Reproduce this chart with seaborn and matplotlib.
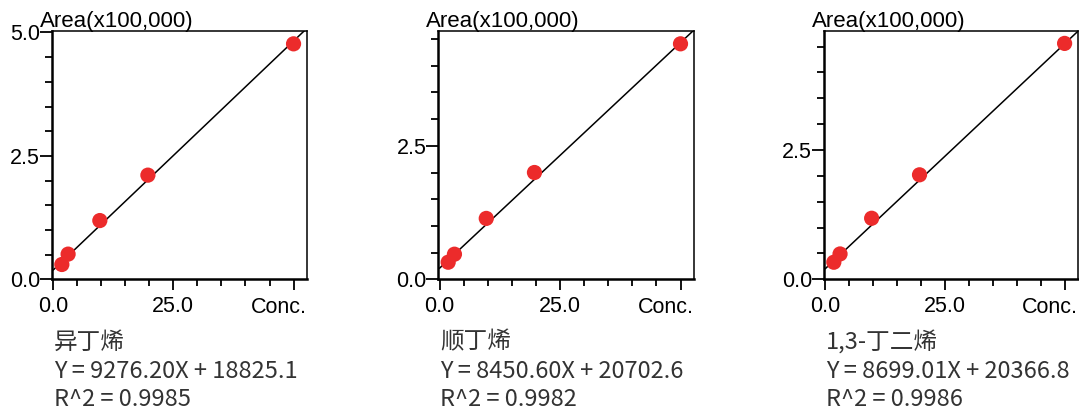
import matplotlib
matplotlib.use("Agg")
import numpy as np
import pandas as pd
import matplotlib.pyplot as plt
from matplotlib.ticker import MultipleLocator, FixedLocator
import seaborn as sns

# Calibration data: concentration vs. peak area (in units of 100,000)
conc = [1.8, 3.1, 9.7, 19.7, 50.0]
area_isobutene = [0.30, 0.51, 1.19, 2.11, 4.77]
area_cis_butene = [0.32, 0.47, 1.14, 2.00, 4.41]
area_butadiene = [0.33, 0.49, 1.18, 2.02, 4.56]

compounds = ["异丁烯", "顺丁烯", "1,3-丁二烯"]
slopes = [9276.20, 8450.60, 8699.01]
intercepts = [18825.1, 20702.6, 20366.8]
r_squared = [0.9985, 0.9982, 0.9986]

x_ticks = [0, 25]
x_tick_labels = ["0.0", "25.0"]
y_ticks = [0, 2.5, 5.0]
y_tick_labels = ["0.0", "2.5", "5.0"]

sns.set_theme(style="ticks")
plt.rcParams["font.family"] = ["Liberation Sans", "DejaVu Sans"]

W, H = 1079, 412
fig = plt.figure(figsize=(W / 100, H / 100), dpi=100)

RED = "#EC2B2B"
# axes boxes in pixels: left, right, top, bottom
boxes = [(52, 307, 31, 279.3), (438.3, 694, 31, 279.3), (824, 1078, 31, 279.3)]
y_tops = [5.03, 4.65, 4.80]
series = [area_isobutene, area_cis_butene, area_butadiene]
X_MAX = 52.8
TICK_FS = 15.5

for i, (l, r, t, b) in enumerate(boxes):
    ax = fig.add_axes([l / W, 1 - b / H, (r - l) / W, (b - t) / H])
    df = pd.DataFrame({"conc": conc, "area": series[i]})

    fit_x = np.array([0.0, X_MAX])
    fit_y = (slopes[i] * fit_x + intercepts[i]) / 1e5
    sns.lineplot(x=fit_x, y=fit_y, ax=ax, color="black", lw=1.1, zorder=2)
    sns.scatterplot(data=df, x="conc", y="area", ax=ax, s=120, color=RED,
                    edgecolor="none", linewidth=0, zorder=3)

    ax.set_xlim(-0.25, X_MAX)
    ax.set_ylim(0, y_tops[i])
    ax.set_xlabel("")
    ax.set_ylabel("")

    ax.xaxis.set_major_locator(FixedLocator([0, 25, 50]))
    ax.set_xticklabels(x_tick_labels + [""])
    ax.xaxis.set_minor_locator(MultipleLocator(5))
    ax.yaxis.set_major_locator(FixedLocator(y_ticks))
    ax.set_yticklabels(y_tick_labels)
    ax.yaxis.set_minor_locator(MultipleLocator(0.5))

    ax.tick_params(axis="both", which="major", direction="out", color="black",
                   width=1.3, labelsize=TICK_FS, labelcolor="black")
    ax.tick_params(axis="y", which="major", length=8.6, pad=0)
    ax.tick_params(axis="x", which="major", length=7.7, pad=4)
    ax.tick_params(axis="y", which="minor", length=5, width=1.3, color="black")
    ax.tick_params(axis="x", which="minor", length=4.8, width=1.3, color="black")

    for side in ["left", "bottom"]:
        ax.spines[side].set_linewidth(1.8)
        ax.spines[side].set_color("black")
    for side in ["top", "right"]:
        ax.spines[side].set_visible(True)
        ax.spines[side].set_linewidth(1.1)
        ax.spines[side].set_color("black")
    ax.set_facecolor("white")

    # axis captions
    fig.text(r / W, 1 - 313 / H, "Conc.", ha="right", va="baseline",
             fontsize=TICK_FS, color="black")
    fig.text((l - 12) / W, 1 - 26.7 / H, "Area(x100,000)", ha="left",
             va="baseline", fontsize=16, color="black")

    # calibration summary
    tx = (l + 2) / W
    lines = [compounds[i],
             f"Y = {slopes[i]:.2f}X + {intercepts[i]:.1f}",
             f"R^2 = {r_squared[i]:.4f}"]
    for txt, yc in zip(lines, [342, 371, 399]):
        fig.text(tx, 1 - yc / H, txt, ha="left", va="center", fontsize=17,
                 color="#333333", family=["Noto Sans CJK SC", "DejaVu Sans"])

fig.savefig("out.png", dpi=100, facecolor="white")
